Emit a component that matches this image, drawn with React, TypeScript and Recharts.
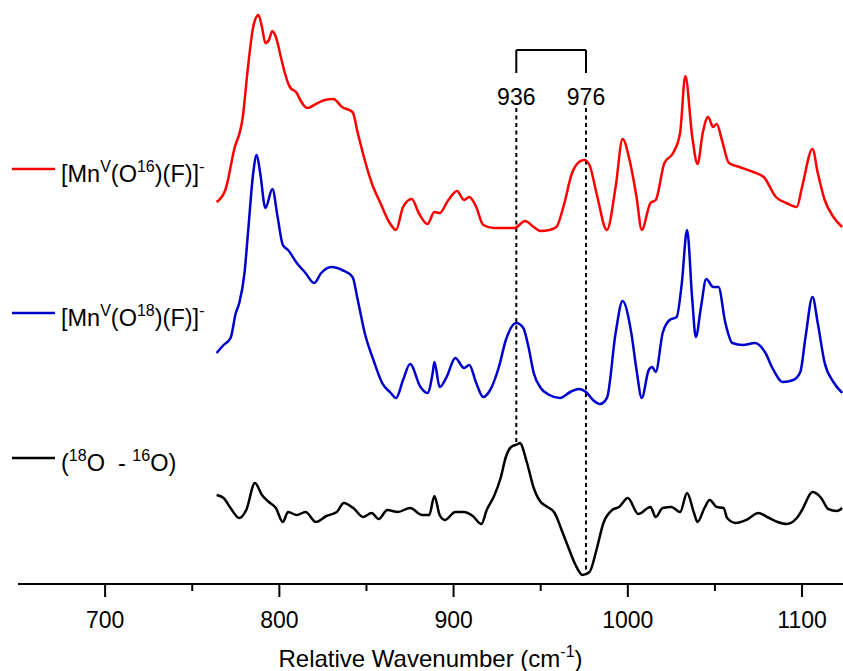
import React from "react";
import {
  Legend,
  Line,
  LineChart,
  ReferenceLine,
  XAxis,
  YAxis,
} from "recharts";

// wavenumbers (cm-1) and offset intensities (arb. units)
const o16Wavenumber = [
  764, 769, 774, 779, 782, 785, 788, 790, 792, 794, 796, 798, 801, 803, 806, 810,
  812, 816, 821, 826, 831, 836, 842, 845, 849, 853, 858, 863, 867, 871, 876, 880,
  885, 889, 892, 897, 902, 906, 909, 913, 917, 923, 929, 935, 941, 946, 950, 955,
  959, 963, 968, 972, 975, 978, 982, 988, 993, 997, 1001, 1005, 1008, 1013, 1016,
  1021, 1026, 1030, 1033, 1037, 1040, 1043, 1046, 1049, 1051, 1054, 1058, 1064,
  1072, 1078, 1085, 1091, 1097, 1100, 1106, 1109, 1113, 1118, 1123,
];
const o16Intensity = [
  382, 394, 434, 467, 517, 557, 569, 557, 541, 544, 553, 547, 526, 512, 497, 491,
  484, 476, 480, 484, 485, 477, 472, 451, 424, 401, 381, 362, 354, 377, 385, 371,
  360, 372, 371, 384, 393, 384, 387, 377, 359, 356, 356, 356, 363, 357, 353, 354,
  357, 377, 411, 422, 424, 419, 391, 354, 397, 445, 424, 387, 354, 381, 384,
  421, 431, 451, 508, 447, 420, 451, 467, 457, 460, 444, 421, 417,
  412, 407, 387, 381, 377, 397, 435, 411, 384, 367, 357,
];

const o18Wavenumber = [
  764, 768, 772, 775, 777, 780, 782, 785, 787, 789, 792, 796, 799, 802, 805, 810,
  815, 820, 824, 830, 836, 842, 845, 849, 854, 859, 864, 867, 871, 875, 881, 885,
  888, 889, 892, 896, 901, 906, 909, 913, 917, 921, 926, 930, 936, 940, 943, 946,
  950, 955, 961, 967, 972, 976, 980, 984, 988, 993, 997, 1002, 1005, 1008, 1012,
  1014, 1016, 1020, 1024, 1028, 1031, 1034, 1037, 1039, 1042, 1045, 1049, 1052,
  1056, 1060, 1066, 1073, 1079, 1083, 1089, 1095, 1099, 1102, 1106, 1109, 1113,
  1118, 1123,
];
const o18Intensity = [
  231, 239, 246, 271, 281, 311, 351, 411, 429, 411, 376, 395, 367, 339, 334, 321,
  311, 301, 311, 317, 314, 307, 284, 251, 224, 201, 191, 186, 204, 220, 197, 191,
  211, 222, 197, 207, 226, 216, 219, 201, 187, 194, 217, 244, 261, 256, 237, 211,
  196, 189, 186, 192, 195, 192, 184, 180, 186, 251, 283, 251, 214, 186, 214,
  217, 212, 251, 264, 267, 301, 354, 284, 247, 277, 305, 297, 297,
  261, 241, 239, 241, 231, 216, 202, 204, 212, 247, 287, 261, 221,
  202, 191,
];

const diffWavenumber = [
  764, 768, 772, 777, 781, 786, 790, 794, 798, 802, 805, 810, 815, 821, 827, 833,
  837, 843, 848, 853, 857, 862, 868, 875, 882, 886, 889, 892, 895, 901, 906, 911,
  916, 919, 923, 927, 930, 933, 937, 938, 942, 946, 950, 953, 958, 962, 966, 970,
  974, 978, 982, 986, 991, 995, 1000, 1006, 1013, 1016, 1020, 1025, 1030, 1034,
  1038, 1040, 1044, 1047, 1051, 1055, 1057, 1062, 1068, 1075, 1080, 1086, 1091,
  1097, 1100, 1106, 1111, 1115, 1120, 1123,
];
const diffIntensity = [
  89, 86, 76, 66, 74, 101, 89, 82, 76, 62, 72, 69, 72, 62, 68, 72,
  81, 75, 67, 71, 65, 74, 72, 76, 69, 69, 88, 69, 64, 72, 72, 68,
  60, 74, 87, 106, 127, 137, 140, 141, 122, 96, 82, 78, 71, 54, 36, 19,
  9, 12, 34, 61, 74, 77, 86, 70, 77, 67, 76, 77, 72, 91,
  71, 62, 76, 84, 77, 76, 66, 61, 64, 71, 67, 62, 60,
  66, 74, 92, 86, 75, 73, 76,
];

const majorTicks = [700, 800, 900, 1000, 1100];
const minorTicks = [750, 850, 950, 1050];
const markedBands = [936, 976];

const toPoints = (wn: number[], val: number[]) =>
  wn.map((w, i) => ({ wn: w, value: val[i] }));

const series = [
  {
    key: "o16",
    name: "[MnV(O16)(F)]-",
    color: "#ff0000",
    data: toPoints(o16Wavenumber, o16Intensity),
    label: [["[Mn"], ["V", "sup"], ["(O"], ["16", "sup"], [")(F)]"], ["-", "sup"]],
  },
  {
    key: "o18",
    name: "[MnV(O18)(F)]-",
    color: "#0000cc",
    data: toPoints(o18Wavenumber, o18Intensity),
    label: [["[Mn"], ["V", "sup"], ["(O"], ["18", "sup"], [")(F)]"], ["-", "sup"]],
  },
  {
    key: "diff",
    name: "(18O - 16O)",
    color: "#000000",
    data: toPoints(diffWavenumber, diffIntensity),
    label: [["("], ["18", "sup"], ["O  - "], ["16", "sup"], ["O)"]],
  },
];

const FONT = "'Liberation Sans', Arial, sans-serif";
const legendRows = [169, 313, 458];

function RichText({ parts, x, y }: { parts: string[][]; x: number; y: number }) {
  const spans: React.ReactNode[] = [];
  let shifted = false;
  parts.forEach(([t, kind], i) => {
    const sup = kind === "sup";
    const dy = sup && !shifted ? -10 : !sup && shifted ? 10 : 0;
    shifted = sup;
    spans.push(
      <tspan key={i} dy={dy} fontSize={sup ? 16 : 23.5}>
        {t}
      </tspan>
    );
  });
  return (
    <text x={x} y={y} fontFamily={FONT} fontSize={23.5} fill="#000" style={{ whiteSpace: "pre" }}>
      {spans}
    </text>
  );
}

function SpectraLegend() {
  return (
    <svg width={230} height={480} style={{ overflow: "visible" }}>
      {series.map((s, i) => (
        <g key={s.key}>
          <line x1={12} x2={55} y1={legendRows[i]} y2={legendRows[i]} stroke={s.color} strokeWidth={2.5} />
          <RichText parts={s.label} x={61} y={legendRows[i] + 13} />
        </g>
      ))}
    </svg>
  );
}

function AxisTick({ x, y, payload }: any) {
  const major = payload.value % 100 === 0;
  return (
    <g>
      <line x1={x} x2={x} y1={y} y2={y + (major ? 13 : 7)} stroke="#000" strokeWidth={2} />
      {major && (
        <text x={x} y={y + 44} textAnchor="middle" fontFamily={FONT} fontSize={23} fill="#000">
          {payload.value}
        </text>
      )}
    </g>
  );
}

function AxisTitle({ viewBox }: any) {
  const cx = viewBox.x + viewBox.width / 2;
  return (
    <text x={cx} y={viewBox.y + 83} textAnchor="middle" fontFamily={FONT} fontSize={24} fill="#000">
      Relative Wavenumber (cm
      <tspan dy={-10} fontSize={16}>
        -1
      </tspan>
      <tspan dy={10}>)</tspan>
    </text>
  );
}

export default function App() {
  return (
    <div style={{ position: "absolute", left: 0, top: 0, width: 843, height: 671, background: "#fff" }}>
      <LineChart width={843} height={671} margin={{ top: 0, right: 0, bottom: 0, left: 18 }}>
        <XAxis
          dataKey="wn"
          type="number"
          domain={[650, 1123.5]}
          allowDataOverflow
          ticks={[...majorTicks, ...minorTicks].sort((a, b) => a - b)}
          interval={0}
          height={87}
          tickSize={0}
          tickMargin={0}
          tickLine={false}
          tick={<AxisTick />}
          axisLine={{ stroke: "#000", strokeWidth: 2 }}
          label={(props: any) => <AxisTitle {...props} />}
        />
        <YAxis hide type="number" domain={[0, 584]} allowDataOverflow />
        <Legend
          layout="vertical"
          align="center"
          verticalAlign="middle"
          content={() => <SpectraLegend />}
          wrapperStyle={{ left: 0, top: 0, width: 230, height: 480, margin: 0 }}
        />

        {/* bracket linking the two marked bands */}
        <ReferenceLine segment={[{ x: 936, y: 534 }, { x: 976, y: 534 }]} stroke="#000" strokeWidth={2} />
        <ReferenceLine segment={[{ x: 936, y: 534 }, { x: 936, y: 511 }]} stroke="#000" strokeWidth={2} />
        <ReferenceLine segment={[{ x: 976, y: 534 }, { x: 976, y: 511 }]} stroke="#000" strokeWidth={2} />
        <ReferenceLine
          segment={[{ x: markedBands[0], y: 476 }, { x: markedBands[0], y: 139 }]}
          stroke="#000"
          strokeWidth={2}
          strokeDasharray="4 3.5"
          label={{ value: String(markedBands[0]), position: "top", offset: 3, fontSize: 23, fill: "#000", fontFamily: FONT }}
        />
        <ReferenceLine
          segment={[{ x: markedBands[1], y: 476 }, { x: markedBands[1], y: 10 }]}
          stroke="#000"
          strokeWidth={2}
          strokeDasharray="4 3.5"
          label={{ value: String(markedBands[1]), position: "top", offset: 3, fontSize: 23, fill: "#000", fontFamily: FONT }}
        />

        {series.map((s) => (
          <Line
            key={s.key}
            data={s.data}
            dataKey="value"
            name={s.name}
            type="monotone"
            stroke={s.color}
            strokeWidth={2.5}
            dot={false}
            isAnimationActive={false}
          />
        ))}
      </LineChart>
    </div>
  );
}
